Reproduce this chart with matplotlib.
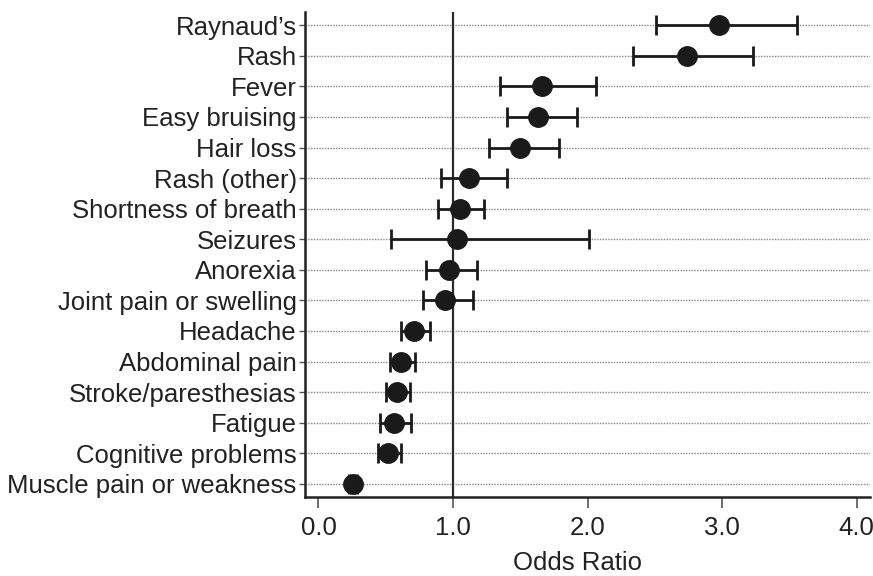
import numpy as np
import matplotlib
matplotlib.use("Agg")
import matplotlib.pyplot as plt

# Data (top to bottom)
symptoms = ["Raynaud\u2019s", "Rash", "Fever", "Easy bruising", "Hair loss",
            "Rash (other)", "Shortness of breath", "Seizures", "Anorexia",
            "Joint pain or swelling", "Headache", "Abdominal pain",
            "Stroke/paresthesias", "Fatigue", "Cognitive problems",
            "Muscle pain or weakness"]
odds_ratio = [2.98, 2.74, 1.66, 1.63, 1.50, 1.12, 1.05, 1.03, 0.97, 0.94,
              0.71, 0.61, 0.58, 0.56, 0.52, 0.26]
ci_low = [2.51, 2.34, 1.35, 1.40, 1.27, 0.91, 0.89, 0.54, 0.80, 0.78,
          0.61, 0.53, 0.50, 0.46, 0.44, 0.23]
ci_high = [3.56, 3.23, 2.06, 1.92, 1.79, 1.40, 1.23, 2.01, 1.18, 1.15,
           0.83, 0.72, 0.68, 0.69, 0.61, 0.29]
x_ticks = [0.0, 1.0, 2.0, 3.0, 4.0]

plt.rcParams["font.family"] = ["Liberation Sans", "DejaVu Sans"]

fig = plt.figure(figsize=(8.73, 5.76), dpi=100)
ax = fig.add_axes([0.3494, 0.1372, 0.6472, 0.8418])

n = len(symptoms)
y = np.arange(n)[::-1]
or_arr = np.array(odds_ratio)
err = [or_arr - np.array(ci_low), np.array(ci_high) - or_arr]

# -- Grid lines per row --
for yy in y:
    ax.axhline(yy, color="#888888", lw=1.0, ls=(0, (1, 1)), zorder=1)

# -- Reference line --
ax.axvline(1.0, color="#2a2a2a", lw=1.6, zorder=2)

# -- Points with CI --
ax.errorbar(odds_ratio, y, xerr=err, fmt="o", color="#1a1a1a",
            markersize=14, elinewidth=2.0, capsize=7, capthick=2.0, zorder=3)

ax.set_xlim(-0.1, 4.1)
ax.set_ylim(-0.43, n - 1 + 0.43)

ax.set_yticks(y)
ax.set_yticklabels(symptoms, fontsize=18.5, color="#222222")
ax.set_xticks(x_ticks)
ax.set_xticklabels(["%.1f" % t for t in x_ticks], fontsize=18.5, color="#222222")

ax.tick_params(axis="y", length=4.5, width=1.0, pad=1.5, color="#555555")
ax.tick_params(axis="x", length=8, width=1.2, pad=6, color="#555555")

for side in ["top", "right"]:
    ax.spines[side].set_visible(False)
for side in ["left", "bottom"]:
    ax.spines[side].set_linewidth(1.8)
    ax.spines[side].set_color("#222222")

ax.set_xlabel("Odds Ratio", fontsize=18.5, color="#222222")
ax.xaxis.set_label_coords(0.483, -0.112)

fig.savefig("out.png", dpi=100)
